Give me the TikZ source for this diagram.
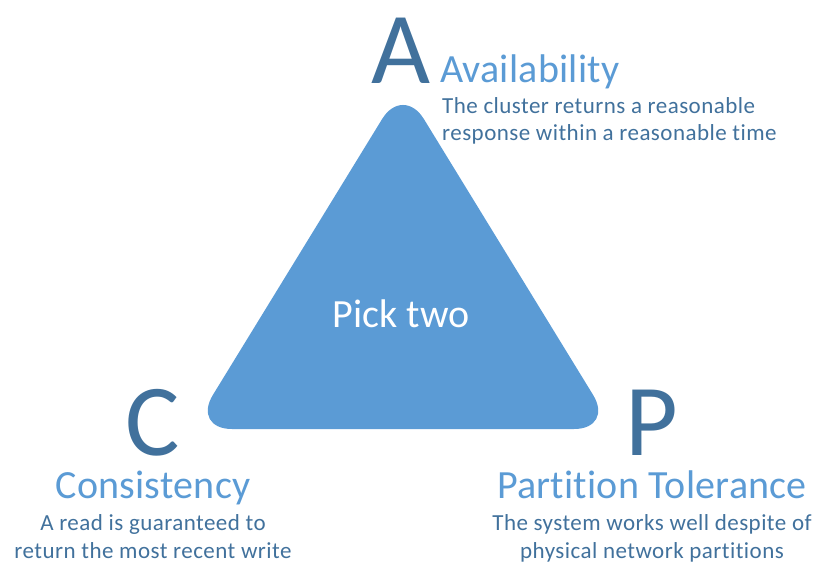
\documentclass[tikz,border=0pt]{standalone}
\usepackage{fontspec}
\setmainfont[RawFeature=-liga]{Carlito}
\definecolor{triblue}{HTML}{5B9BD5}
\definecolor{darkblue}{HTML}{41719C}
\begin{document}
\begin{tikzpicture}[x=1pt,y=-1pt,
  bigletter/.style={text=darkblue,font=\fontsize{102}{102}\selectfont,inner sep=0pt,text depth=0pt,text height=66pt},
  title/.style={text=triblue,font=\fontsize{40}{40}\selectfont\addfontfeature{LetterSpace=0.6},inner sep=0pt},
  desc/.style={text=darkblue,font=\fontsize{23}{27}\selectfont\addfontfeature{LetterSpace=2},inner sep=0pt},
  pick/.style={text=white,font=\fontsize{40}{40}\selectfont,inner sep=0pt}]
\useasboundingbox (0,0) rectangle (831,579);
\fill[triblue,rounded corners=40pt] (403,85) -- (614,429) -- (192,429) -- cycle;
\node[pick,anchor=base] (pick) at (401,327) {Pick two};
% A
\node[bigletter,anchor=base] (A) at (401,83) {A};
\node[title,anchor=base west] (avail) at (440,82) {Availability};
\node[desc,anchor=base west] (adesc1) at (442,113) {The cluster returns a reasonable};
\node[desc,anchor=base west] (adesc2) at (442,140) {response within a reasonable time};
% C
\node[bigletter,anchor=base] (C) at (153,455) {C};
\node[title,anchor=base] (cons) at (153,498) {Consistency};
\node[desc,anchor=base] (cdesc1) at (153,530) {A read is guaranteed to};
\node[desc,anchor=base] (cdesc2) at (153,558) {return the most recent write};
% P
\node[bigletter,anchor=base] (P) at (652,455) {P};
\node[title,anchor=base] (part) at (652,498) {Partition Tolerance};
\node[desc,anchor=base] (pdesc1) at (652,530) {The system works well despite of};
\node[desc,anchor=base] (pdesc2) at (652,558) {physical network partitions};
\end{tikzpicture}
\end{document}
